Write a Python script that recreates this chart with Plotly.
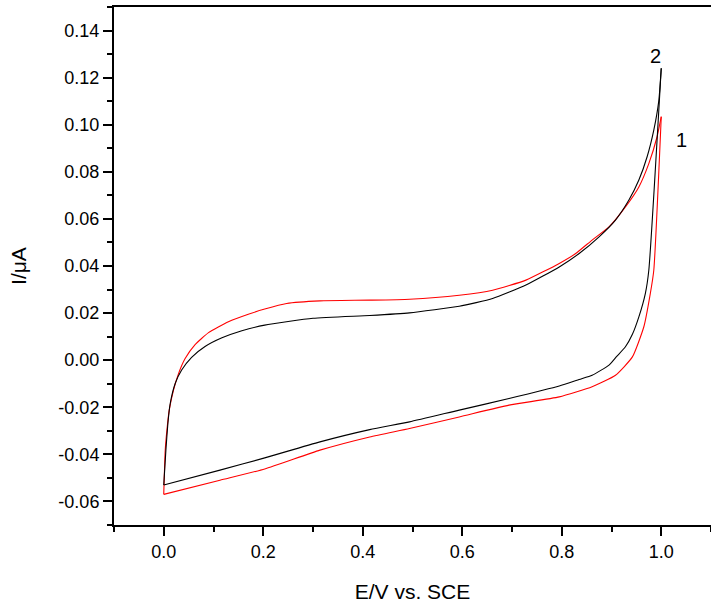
import plotly.graph_objects as go

# Curve 1 (red): anodic (forward) scan
red_fwd_x = [0.0, 0.003, 0.0064, 0.011, 0.0196, 0.0297, 0.043, 0.063, 0.09, 0.13, 0.17, 0.203, 0.247,
             0.314, 0.414, 0.494, 0.594, 0.661, 0.728, 0.795, 0.828, 0.861, 0.895, 0.928, 0.955,
             0.975, 0.9916, 1.0]
red_fwd_y = [-0.057, -0.0382, -0.0297, -0.0212, -0.0127, -0.0057, 0.0007, 0.0066, 0.0117, 0.0163,
             0.0195, 0.0217, 0.0241, 0.0252, 0.0255, 0.0259, 0.0276, 0.0297, 0.034, 0.0411, 0.0453,
             0.051, 0.0566, 0.0651, 0.0736, 0.0835, 0.0949, 0.1034]
# Curve 1 (red): cathodic (reverse) scan
red_rev_x = [1.0, 0.985, 0.978, 0.965, 0.942, 0.908, 0.861, 0.795, 0.694, 0.594, 0.494, 0.414,
             0.314, 0.203, 0.113, 0.0]
red_rev_y = [0.1034, 0.0382, 0.0283, 0.0142, 0.0014, -0.0064, -0.0113, -0.0156, -0.0191, -0.0241,
             -0.029, -0.0326, -0.0382, -0.0462, -0.051, -0.057]

# Curve 2 (black): anodic (forward) scan
black_fwd_x = [0.0, 0.0043, 0.0083, 0.013, 0.023, 0.036, 0.056, 0.083, 0.117, 0.157, 0.203, 0.3,
               0.414, 0.494, 0.594, 0.661, 0.728, 0.795, 0.835, 0.875, 0.908, 0.935, 0.955, 0.9716,
               0.985, 0.995, 1.0]
black_fwd_y = [-0.053, -0.0382, -0.0269, -0.0184, -0.0099, -0.0042, 0.0012, 0.0058, 0.0095, 0.0125,
               0.0149, 0.0178, 0.019, 0.0201, 0.0229, 0.0262, 0.0319, 0.0396, 0.0453, 0.0524, 0.0595,
               0.068, 0.0765, 0.0864, 0.0977, 0.110, 0.124]
# Curve 2 (black): cathodic (reverse) scan
black_rev_x = [1.0, 0.975, 0.968, 0.955, 0.942, 0.928, 0.91, 0.895, 0.861, 0.835, 0.795, 0.694,
               0.594, 0.494, 0.414, 0.314, 0.203, 0.113, 0.0]
black_rev_y = [0.124, 0.0382, 0.0283, 0.0184, 0.011, 0.0057, 0.0015, -0.0021, -0.0064, -0.0082,
               -0.011, -0.0163, -0.0212, -0.0262, -0.0295, -0.0347, -0.0415, -0.0467, -0.053]

x_tickvals = [0.0, 0.2, 0.4, 0.6, 0.8, 1.0]
x_ticktext = ["0.0", "0.2", "0.4", "0.6", "0.8", "1.0"]
y_tickvals = [-0.06, -0.04, -0.02, 0.0, 0.02, 0.04, 0.06, 0.08, 0.10, 0.12, 0.14]
y_ticktext = ["-0.06", "-0.04", "-0.02", "0.00", "0.02", "0.04", "0.06", "0.08", "0.10", "0.12", "0.14"]

labels = [("2", 0.988, 0.129), ("1", 1.041, 0.0935)]

FONT = "Liberation Sans, Arial, sans-serif"

fig = go.Figure()
for xs, ys, col in [(red_fwd_x, red_fwd_y, "#ff0000"), (red_rev_x, red_rev_y, "#ff0000"),
                    (black_fwd_x, black_fwd_y, "#000000"), (black_rev_x, black_rev_y, "#000000")]:
    fig.add_trace(go.Scatter(x=xs, y=ys, mode="lines",
                             line=dict(color=col, width=1.1, shape="spline", smoothing=0.5),
                             showlegend=False))

for t, lx, ly in labels:
    fig.add_annotation(x=lx, y=ly, text=t, showarrow=False,
                       font=dict(family=FONT, size=20, color="black"))

axis_common = dict(showgrid=False, zeroline=False, showline=True, linecolor="black", linewidth=2,
                   ticks="outside", tickcolor="black", tickwidth=2, ticklen=9,
                   tickfont=dict(family=FONT, size=18, color="black"))

fig.update_xaxes(range=[-0.1, 1.1], tickvals=x_tickvals, ticktext=x_ticktext, mirror=True,
                 minor=dict(ticks="outside", dtick=0.1, tick0=0, ticklen=5, tickwidth=2, tickcolor="black"),
                 title=dict(text="E/V vs. SCE", font=dict(family=FONT, size=21, color="black"), standoff=24),
                 **axis_common)
fig.update_yaxes(range=[-0.07, 0.15], tickvals=y_tickvals, ticktext=y_ticktext,
                 minor=dict(ticks="outside", dtick=0.01, tick0=0, ticklen=5, tickwidth=2, tickcolor="black"),
                 title=dict(text="I/μA", font=dict(family=FONT, size=21, color="black"), standoff=26),
                 **axis_common)

fig.update_layout(width=711, height=603, margin=dict(l=114, r=0, t=7, b=78),
                  plot_bgcolor="white", paper_bgcolor="white",
                  font=dict(family=FONT, color="black"))

fig.write_html("out.html")
